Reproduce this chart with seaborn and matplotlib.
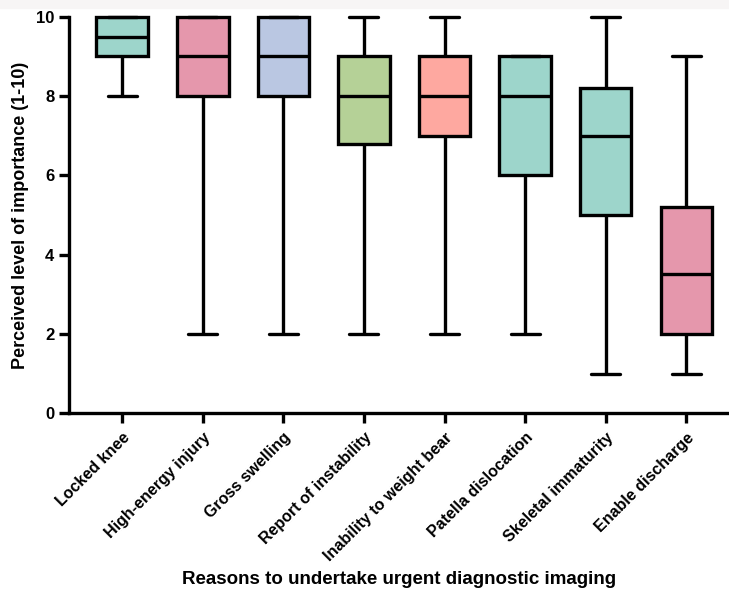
import numpy as np
import pandas as pd
import matplotlib
matplotlib.use("Agg")
import matplotlib.pyplot as plt
from matplotlib.patches import Rectangle
import seaborn as sns

categories = ["Locked knee", "High-energy injury", "Gross swelling",
              "Report of instability", "Inability to weight bear",
              "Patella dislocation", "Skeletal immaturity", "Enable discharge"]
mins = [8, 2, 2, 2, 2, 2, 1, 1]
q1s = [9, 8, 8, 6.8, 7, 6, 5, 2]
medians = [9.5, 9, 9, 8, 8, 8, 7, 3.5]
q3s = [10, 10, 10, 9, 9, 9, 8.2, 5.2]
maxs = [10, 10, 10, 10, 10, 9, 10, 9]
colors = ["#9dd5cb", "#e597ac", "#bac7e2", "#b5d197",
          "#fea8a0", "#9dd5cb", "#9dd5cb", "#e597ac"]
yticks = [0, 2, 4, 6, 8, 10]

rows = []
for c, a, b, m, d, e in zip(categories, mins, q1s, medians, q3s, maxs):
    for v in (a, b, m, d, e):
        rows.append({"reason": c, "score": v})
df = pd.DataFrame(rows)

sns.set_style("ticks")
plt.rcParams["font.family"] = ["Liberation Sans", "DejaVu Sans"]
plt.rcParams["font.weight"] = "bold"
plt.rcParams["text.color"] = "black"
plt.rcParams["axes.labelcolor"] = "black"
plt.rcParams["xtick.color"] = "black"
plt.rcParams["ytick.color"] = "black"

fig = plt.figure(figsize=(7.29, 5.98), dpi=100)
ax = fig.add_axes([0.0947, 0.309, 0.9053, 0.663])
fig.patches.append(Rectangle((0, 0.986), 1, 0.014, transform=fig.transFigure,
                             color="#f7f5f5", zorder=0))

lw = 2.4
sns.boxplot(data=df, x="reason", y="score", hue="reason", order=categories,
            hue_order=categories, palette=colors, legend=False,
            whis=(0, 100), width=0.64, linecolor="black", linewidth=lw,
            capwidths=0.36, saturation=1, ax=ax,
            showfliers=False)
for art in ax.patches + ax.lines:
    art.set_clip_on(False)

ax.set_ylim(0, 10)
ax.set_xlim(-0.66, 7.53)
ax.set_yticks(yticks)
ax.set_yticklabels([str(t) for t in yticks], fontsize=12, fontweight="bold")
ax.set_xticks(range(len(categories)))
ax.set_xticklabels(categories, rotation=45, ha="right", rotation_mode="anchor",
                   fontsize=11.5, fontweight="bold")
ax.tick_params(axis="both", width=lw, length=7, color="black", labelcolor="black")
ax.tick_params(axis="x", pad=5)
for s in ["top", "right"]:
    ax.spines[s].set_visible(False)
for s in ["left", "bottom"]:
    ax.spines[s].set_linewidth(lw)
    ax.spines[s].set_color("black")
ax.set_ylabel("Perceived level of importance (1-10)", fontsize=13,
              fontweight="bold", labelpad=5, color="black")
ax.set_xlabel("Reasons to undertake urgent diagnostic imaging", fontsize=13.5,
              fontweight="bold", labelpad=5, color="black")
fig.savefig("out.png", dpi=100)
